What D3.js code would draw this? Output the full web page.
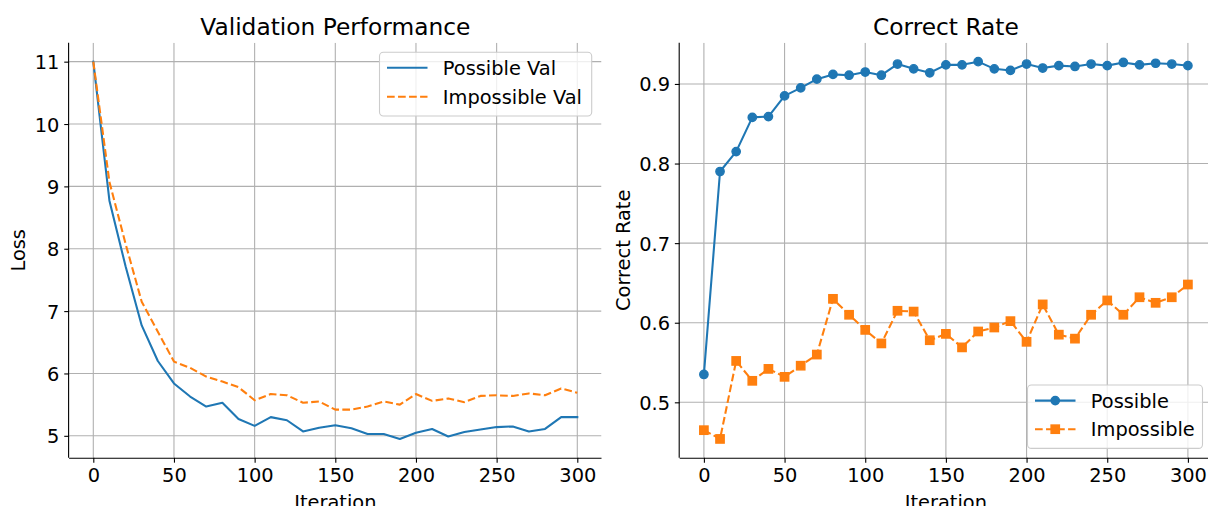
<!DOCTYPE html>
<html>
<head>
<meta charset="utf-8">
<script src="https://cdn.jsdelivr.net/npm/d3@7"></script>
<style>
  html, body { margin: 0; padding: 0; background: #fff; }
  svg { display: block; font-family: "DejaVu Sans", sans-serif; }
</style>
</head>
<body>
<svg id="chart" width="1208" height="506"></svg>
<script>
// ---- Data ----
const iterations = [0,10,20,30,40,50,60,70,80,90,100,110,120,130,140,150,160,170,180,190,200,210,220,230,240,250,260,270,280,290,300];

const possibleVal = [11.0,8.77,7.72,6.77,6.20,5.84,5.63,5.47,5.53,5.27,5.16,5.30,5.25,5.07,5.13,5.17,5.12,5.03,5.03,4.95,5.05,5.11,4.99,5.06,5.10,5.14,5.15,5.07,5.11,5.30,5.30];
const impossibleVal = [11.0,9.07,8.08,7.15,6.67,6.19,6.09,5.95,5.87,5.78,5.57,5.67,5.65,5.53,5.55,5.42,5.42,5.47,5.55,5.50,5.67,5.56,5.60,5.54,5.64,5.65,5.64,5.68,5.65,5.76,5.69];

const possibleRate = [0.535,0.790,0.815,0.858,0.859,0.885,0.895,0.906,0.912,0.911,0.915,0.911,0.925,0.919,0.914,0.924,0.924,0.928,0.919,0.917,0.925,0.920,0.923,0.922,0.925,0.923,0.927,0.924,0.926,0.925,0.923];
const impossibleRate = [0.465,0.454,0.552,0.527,0.542,0.532,0.546,0.560,0.630,0.610,0.591,0.574,0.615,0.614,0.578,0.586,0.569,0.589,0.594,0.602,0.576,0.623,0.585,0.580,0.610,0.628,0.610,0.632,0.625,0.632,0.648];

const xTicks = [0,50,100,150,200,250,300];
const lossTicks = [5,6,7,8,9,10,11];
const rateTicks = [0.5,0.6,0.7,0.8,0.9];

const titles = ["Validation Performance", "Correct Rate"];
const xLabel = "Iteration";
const yLabels = ["Loss", "Correct Rate"];
const legendLeft = ["Possible Val", "Impossible Val"];
const legendRight = ["Possible", "Impossible"];

// ---- Style ----
const BLUE = "#1f77b4", ORANGE = "#ff7f0e";
const FS = 19.4, TFS = 23.3;
const LW = 2.08;
const DASH = "7.7,3.33";
const TICK = 4.86, PAD = 4.86;

const svg = d3.select("#chart");
svg.append("rect").attr("width", 1208).attr("height", 506).attr("fill", "#fff");

function pad(ext) { const r = ext[1] - ext[0]; return [ext[0] - 0.05 * r, ext[1] + 0.05 * r]; }

function panel(opts) {
  const { x0, x1, y0, y1 } = opts;
  const g = svg.append("g");
  const x = d3.scaleLinear().domain(pad(d3.extent(iterations))).range([x0, x1]);
  const allY = opts.series.flatMap(s => s.values);
  const y = d3.scaleLinear().domain(pad(d3.extent(allY))).range([y1, y0]);

  const clipId = "clip" + opts.id;
  svg.append("clipPath").attr("id", clipId).append("rect")
    .attr("x", x0).attr("y", y0).attr("width", x1 - x0).attr("height", y1 - y0);

  // grid
  const grid = g.append("g").attr("clip-path", `url(#${clipId})`);
  grid.selectAll(".gx").data(xTicks).join("line")
    .attr("x1", d => x(d)).attr("x2", d => x(d)).attr("y1", y0).attr("y2", y1)
    .attr("stroke", "#b0b0b0").attr("stroke-width", 1.1);
  grid.selectAll(".gy").data(opts.yTicks).join("line")
    .attr("y1", d => y(d)).attr("y2", d => y(d)).attr("x1", x0).attr("x2", x1)
    .attr("stroke", "#b0b0b0").attr("stroke-width", 1.1);

  // axes
  const xAxis = d3.axisBottom(x).tickValues(xTicks).tickSize(TICK).tickPadding(PAD).tickFormat(d3.format("d"));
  const gx = g.append("g").attr("transform", `translate(0,${y1})`).call(xAxis);
  gx.select(".domain").attr("d", `M${x0},0.5H${x1}`).attr("stroke", "#000").attr("stroke-width", 1.1);
  gx.selectAll(".tick line").attr("stroke", "#000").attr("stroke-width", 1.1);
  gx.selectAll(".tick text").attr("font-size", FS).attr("font-family", "DejaVu Sans").attr("fill", "#000")
    .attr("dy", null).attr("y", TICK + PAD + 0.765 * FS);

  const yAxis = d3.axisLeft(y).tickValues(opts.yTicks).tickSize(TICK).tickPadding(PAD).tickFormat(opts.yFmt);
  const gy = g.append("g").attr("transform", `translate(${x0},0)`).call(yAxis);
  gy.select(".domain").attr("d", `M-0.5,${y0}V${y1}`).attr("stroke", "#000").attr("stroke-width", 1.1);
  gy.selectAll(".tick line").attr("stroke", "#000").attr("stroke-width", 1.1);
  gy.selectAll(".tick text").attr("font-size", FS).attr("font-family", "DejaVu Sans").attr("fill", "#000")
    .attr("dy", "0.36em");

  // series
  const plot = g.append("g");
  opts.series.forEach(s => {
    const pts = iterations.map((it, i) => [it, s.values[i]]);
    const line = d3.line().x(d => x(d[0])).y(d => y(d[1]));
    plot.append("path").attr("d", line(pts)).attr("fill", "none")
      .attr("stroke", s.color).attr("stroke-width", LW)
      .attr("stroke-dasharray", s.dash ? DASH : null)
      .attr("stroke-linejoin", "round").attr("stroke-linecap", s.dash ? "butt" : "square");
    if (s.marker === "circle") {
      plot.selectAll(null).data(pts).join("circle")
        .attr("cx", d => x(d[0])).attr("cy", d => y(d[1])).attr("r", 4.17)
        .attr("fill", s.color).attr("stroke", s.color).attr("stroke-width", 1.39);
    } else if (s.marker === "square") {
      plot.selectAll(null).data(pts).join("rect")
        .attr("x", d => x(d[0]) - 4.17).attr("y", d => y(d[1]) - 4.17)
        .attr("width", 8.33).attr("height", 8.33)
        .attr("fill", s.color).attr("stroke", s.color).attr("stroke-width", 1.39);
    }
  });

  // title & labels
  const cx = (x0 + x1) / 2, cy = (y0 + y1) / 2;
  g.append("text").attr("x", cx).attr("y", y0 - 8.3).attr("text-anchor", "middle")
    .attr("font-size", TFS).attr("fill", "#000").text(opts.title);
  g.append("text").attr("x", cx).attr("y", 509).attr("text-anchor", "middle")
    .attr("font-size", FS).attr("fill", "#000").text(xLabel);
  g.append("text").attr("transform", `translate(${opts.ylabelX},${cy}) rotate(-90)`)
    .attr("text-anchor", "middle").attr("font-size", FS).attr("fill", "#000").text(opts.ylabel);

  // legend
  const L = opts.legend;
  const lg = g.append("g");
  lg.append("rect").attr("x", L.x).attr("y", L.y).attr("width", L.w).attr("height", L.h)
    .attr("rx", 3.9).attr("fill", "#fff").attr("fill-opacity", 0.8)
    .attr("stroke", "#cccccc").attr("stroke-width", 1.1);
  opts.series.forEach((s, i) => {
    const ry = L.y + L.row0 + i * L.rowGap;
    const hx0 = L.x + 7.5, hx1 = hx0 + 40.5;
    lg.append("line").attr("x1", hx0).attr("x2", hx1).attr("y1", ry).attr("y2", ry)
      .attr("stroke", s.color).attr("stroke-width", LW)
      .attr("stroke-dasharray", s.dash ? DASH : null);
    const mx = (hx0 + hx1) / 2;
    if (s.marker === "circle") {
      lg.append("circle").attr("cx", mx).attr("cy", ry).attr("r", 4.17)
        .attr("fill", s.color).attr("stroke", s.color).attr("stroke-width", 1.39);
    } else if (s.marker === "square") {
      lg.append("rect").attr("x", mx - 4.17).attr("y", ry - 4.17).attr("width", 8.33).attr("height", 8.33)
        .attr("fill", s.color).attr("stroke", s.color).attr("stroke-width", 1.39);
    }
    lg.append("text").attr("x", hx1 + 15.3).attr("y", ry).attr("dy", "0.36em")
      .attr("font-size", FS).attr("fill", "#000").text(L.labels[i]);
  });
}

panel({
  id: "L", x0: 69.1, x1: 601.5, y0: 42.8, y1: 457.8,
  yTicks: lossTicks, yFmt: d3.format("d"),
  title: titles[0], ylabel: yLabels[0], ylabelX: 25,
  series: [
    { values: possibleVal, color: BLUE, dash: false },
    { values: impossibleVal, color: ORANGE, dash: true }
  ],
  legend: { x: 379.5, y: 52.3, w: 212.2, h: 63.7, row0: 15.4, rowGap: 29, labels: legendLeft }
});

panel({
  id: "R", x0: 679.7, x1: 1212.1, y0: 42.8, y1: 457.8,
  yTicks: rateTicks, yFmt: d3.format(".1f"),
  title: titles[1], ylabel: yLabels[1], ylabelX: 629.5,
  series: [
    { values: possibleRate, color: BLUE, dash: false, marker: "circle" },
    { values: impossibleRate, color: ORANGE, dash: true, marker: "square" }
  ],
  legend: { x: 1027.5, y: 385, w: 175, h: 63.4, row0: 15.6, rowGap: 28.6, labels: legendRight }
});
</script>
</body>
</html>
